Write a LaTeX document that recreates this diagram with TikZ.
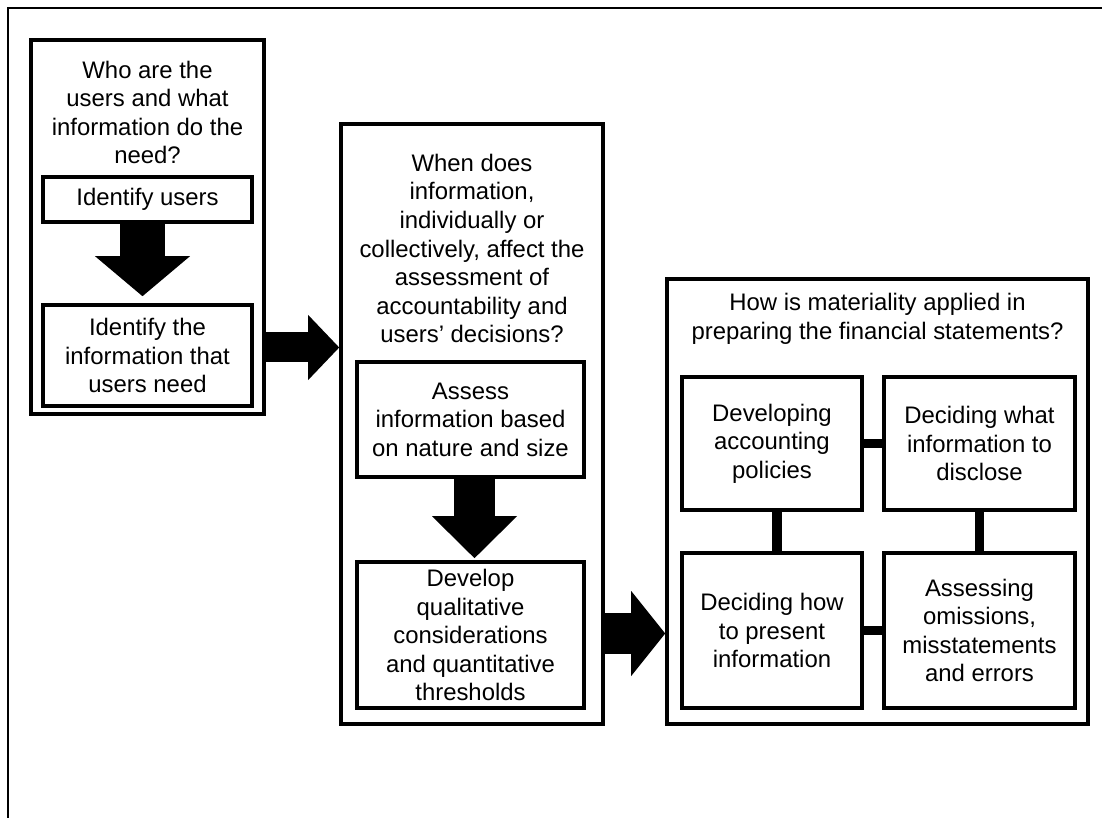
\documentclass[tikz,border=0pt]{standalone}
\usepackage{fontspec}
\setmainfont{Liberation Sans}
\usepackage{tikz}
\usetikzlibrary{arrows.meta,positioning}
\tikzset{
  flowfont/.style={font=\fontsize{17}{20.3}\selectfont},
  frame/.style={rectangle, draw=black, line width=0.9mm, inner sep=0pt},
  proc/.style={rectangle, draw=black, line width=0.9mm, align=center, inner sep=0pt},
  heading/.style={align=center, inner sep=0pt},
  blockarr/.style n args={3}{line width=#1, draw=black, -{Triangle[width=#2, length=#3, line width=0pt]}},
  link/.style={line width=2.3mm, draw=black},
}
\begin{document}
\begin{tikzpicture}[x=0.25mm, y=-0.25mm, flowfont]
  \useasboundingbox (0,0) rectangle (1102,818);
  \draw[line width=0.6mm] (8,818) -- (8,8) -- (1102,8);
  % users
  \node[frame, minimum width=58.25mm, minimum height=93.5mm] (box1) at (147.5,227) {};
  \node[heading] (t1) at (147.5,112.5) {Who are the\\users and what\\information do the\\need?};
  \node[proc, minimum width=52.25mm, minimum height=11.25mm] (u1) at (147.5,199.5) {Identify users};
  \node[proc, minimum width=52.25mm, minimum height=25.25mm] (u2) at (147.5,355.5) {Identify the\\information that\\users need};
  % information
  \node[frame, minimum width=65.5mm, minimum height=150mm] (box2) at (472,424) {};
  \node[heading] (t2) at (472,248.5) {When does\\information,\\individually or\\collectively, affect the\\assessment of\\accountability and\\users' decisions?};
  \node[proc, minimum width=56.75mm, minimum height=28.75mm] (a1) at (470.5,419.5) {Assess\\information based\\on nature and size};
  \node[proc, minimum width=56.75mm, minimum height=36.5mm] (a2) at (470.5,635) {Develop\\qualitative\\considerations\\and quantitative\\thresholds};
  % application
  \node[frame, minimum width=105.25mm, minimum height=111.25mm] (box3) at (877.5,501.5) {};
  \node[heading] (t3) at (877.5,319) {How is materiality applied in\\preparing the financial statements?};
  \node[proc, minimum width=45mm, minimum height=33.25mm] (pA) at (772,443.5) {Developing\\accounting\\policies};
  \node[proc, minimum width=47.75mm, minimum height=33.25mm] (pB) at (979.5,443.5) {Deciding what\\information to\\disclose};
  \node[proc, minimum width=45mm, minimum height=38.75mm] (pC) at (772,630.5) {Deciding how\\to present\\information};
  \node[proc, minimum width=47.75mm, minimum height=38.75mm] (pD) at (979.5,630.5) {Assessing\\omissions,\\misstatements\\and errors};
  \coordinate (j1) at (0,347.5);
  \coordinate (j2) at (0,633.5);
  \draw[blockarr={11.25mm}{23.75mm}{10mm}, shorten >=1.75mm] ([xshift=-1.25mm]u1.south) -- ([xshift=-1.25mm]u2.north);
  \draw[blockarr={7.5mm}{16.25mm}{7.75mm}] (box1.east |- j1) -- (box2.west |- j1);
  \draw[blockarr={10.25mm}{21.25mm}{10.5mm}, shorten >=0.5mm] ([xshift=1mm]a1.south) -- ([xshift=1mm]a2.north);
  \draw[blockarr={10.25mm}{21.25mm}{8.5mm}] (box2.east |- j2) -- (box3.west |- j2);
  \draw[link] (pA.east) -- (pB.west);
  \draw[link] ([xshift=1.25mm]pA.south) -- ([xshift=1.25mm]pC.north);
  \draw[link] (pB.south) -- (pD.north);
  \draw[link] (pC.east) -- (pD.west);
\end{tikzpicture}
\end{document}
